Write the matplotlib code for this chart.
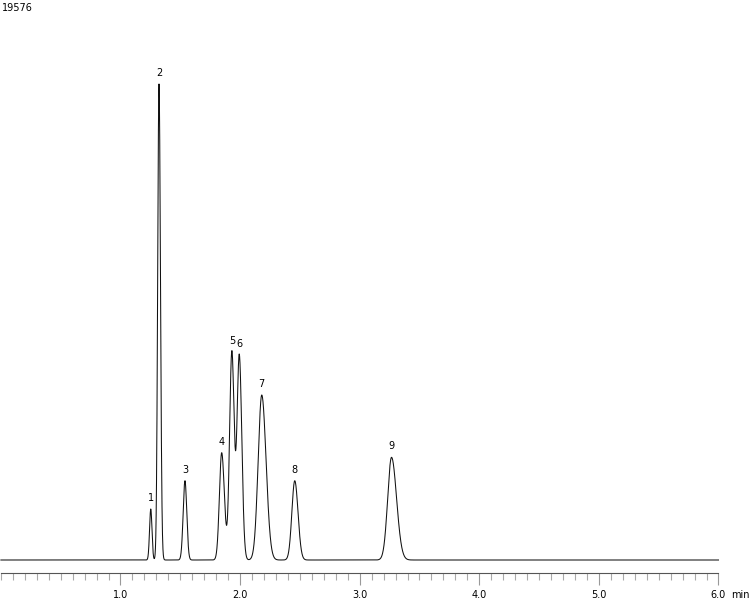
import numpy as np
import matplotlib
matplotlib.use("Agg")
import matplotlib.pyplot as plt
from matplotlib.ticker import FixedLocator

# peak table
peak_no = ["1", "2", "3", "4", "5", "6", "7", "8", "9"]
ret_time = [1.253, 1.322, 1.539, 1.846, 1.931, 1.993, 2.181, 2.457, 3.266]   # min
height = [1783, 16640, 2772, 3751, 7282, 7166, 5768, 2772, 3590]
sigma_left = [0.010, 0.011, 0.015, 0.019, 0.019, 0.019, 0.030, 0.024, 0.032]
sigma_right = [0.010, 0.012, 0.015, 0.0225, 0.019, 0.021, 0.036, 0.027, 0.042]

full_scale = 19576
run_end = 6.0
major_ticks = [1.0, 2.0, 3.0, 4.0, 5.0, 6.0]
tick_labels = ["1.0", "2.0", "3.0", "4.0", "5.0", "6.0"]

# signal = sum of (bi-)gaussian peaks
t = np.linspace(0, run_end, 6001)
signal = np.zeros_like(t)
for rt, h, sl, sr in zip(ret_time, height, sigma_left, sigma_right):
    s = np.where(t < rt, sl, sr)
    signal += h * np.exp(-0.5 * ((t - rt) / s) ** 2)

fig = plt.figure(figsize=(7.5, 5.99), dpi=100)
ax = fig.add_axes([0, 26 / 599, 1, 573 / 599])
ax.plot(t, signal, color="#111111", lw=0.75)

px = full_scale / 560.0
ax.set_xlim(-0.9 / 119.6, (750 - 0.9) / 119.6)
ax.set_ylim(-13 * px, full_scale)

for lab, rt, h in zip(peak_no, ret_time, height):
    ax.annotate(lab, xy=(rt, h), xytext=(0, 7.9), textcoords="offset points",
                ha="center", va="center", fontsize=7, color="black")

for side in ["top", "left", "right"]:
    ax.spines[side].set_visible(False)
ax.spines["bottom"].set_bounds(0, run_end)
ax.spines["bottom"].set_color("#555555")
ax.spines["bottom"].set_linewidth(0.8)
ax.yaxis.set_visible(False)

ax.xaxis.set_major_locator(FixedLocator(major_ticks))
ax.set_xticklabels(tick_labels)
ax.xaxis.set_minor_locator(FixedLocator(np.round(np.arange(0, run_end + 0.01, 0.1), 2)))
ax.tick_params(axis="x", which="major", direction="out", length=8.6, width=0.8,
               color="#999999", labelsize=7, pad=3.5, labelcolor="black")
ax.tick_params(axis="x", which="minor", direction="out", length=5, width=0.8,
               color="#aaaaaa")

ax.annotate("min", xy=(run_end, 0), xycoords=("data", "axes fraction"),
            xytext=(9, -12.5), textcoords="offset points",
            ha="left", va="top", fontsize=7)

fig.text(2 / 750, 1 - 8 / 599, str(full_scale), ha="left", va="center", fontsize=7)

fig.savefig("out.png", dpi=100)
